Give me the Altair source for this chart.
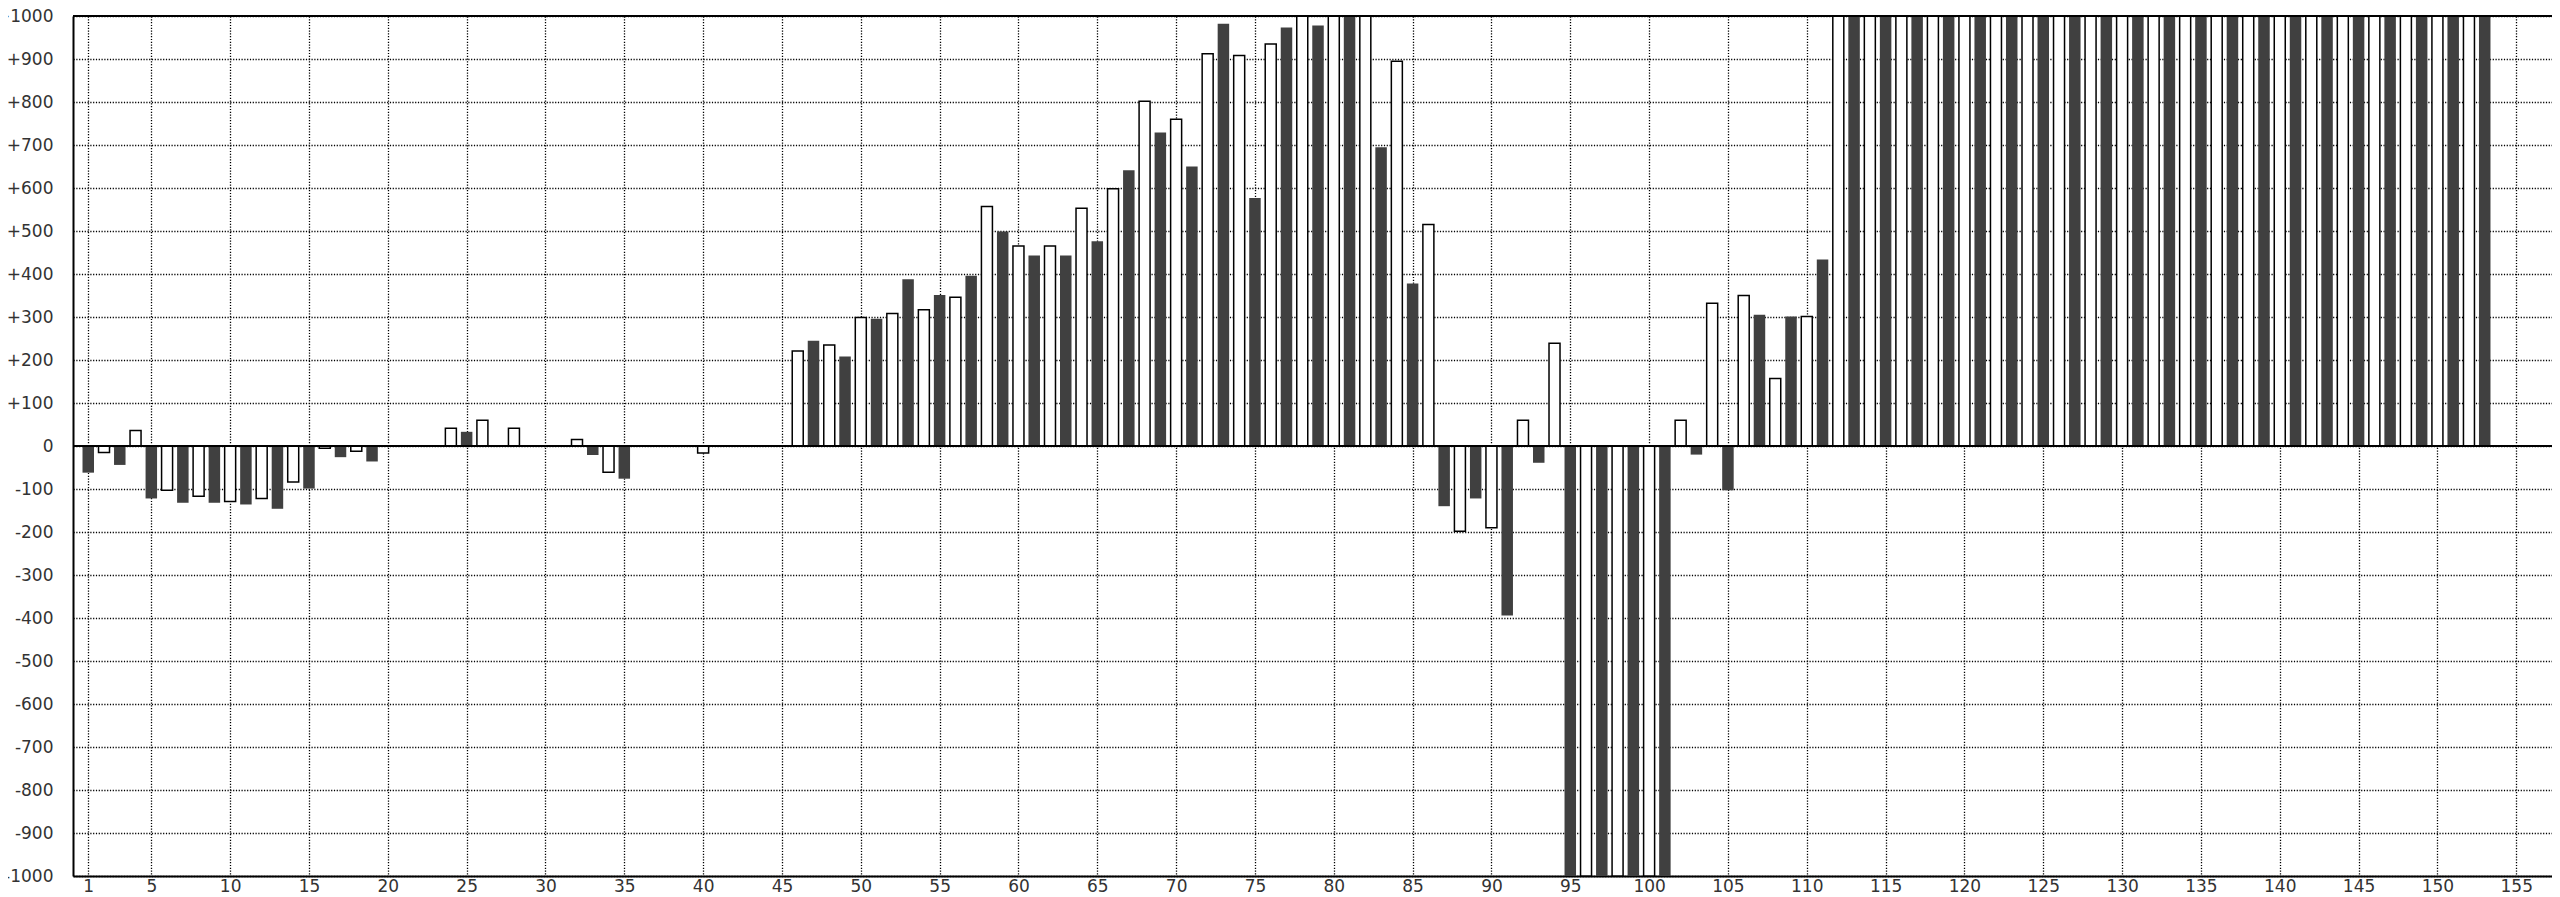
import altair as alt
import pandas as pd

positions = list(range(1, 154))
values = [
    -62, -15, -44, 36, -122, -103, -132, -117, -132, -129,
    -136, -122, -146, -84, -99, -5, -26, -12, -36, 0,
    0, 0, 0, 41, 33, 60, 0, 41, 0, 0,
    0, 15, -21, -61, -76, 0, 0, 0, 0, -16,
    0, 0, 0, 0, 0, 221, 245, 235, 208, 299,
    296, 308, 388, 317, 351, 346, 396, 557, 499, 465,
    443, 465, 443, 553, 476, 598, 641, 802, 729, 760,
    650, 912, 982, 908, 577, 935, 973, 1000, 978, 1000,
    1000, 1000, 695, 895, 378, 515, -140, -198, -122, -190,
    -394, 60, -39, 239, -1000, -1000, -1000, -1000, -1000, -1000,
    -1000, 60, -20, 332, -103, 350, 305, 157, 301, 301,
    434, 1000, 1000, 1000, 1000, 1000, 1000, 1000, 1000, 1000,
    1000, 1000, 1000, 1000, 1000, 1000, 1000, 1000, 1000, 1000,
    1000, 1000, 1000, 1000, 1000, 1000, 1000, 1000, 1000, 1000,
    1000, 1000, 1000, 1000, 1000, 1000, 1000, 1000, 1000, 1000,
    1000, 1000, 1000,
]
x_ticks = [1] + list(range(5, 160, 5))
y_ticks = list(range(-1000, 1001, 100))
border_lines = [0, 1000]

df = pd.DataFrame({"n": positions, "v": values})
df["series"] = ["dark" if n % 2 else "white" for n in positions]
df = df[df["v"] != 0]

xscale = alt.Scale(domain=[0.35, 156.95], nice=False, zero=False)
yscale = alt.Scale(domain=[-1000, 1000], nice=False)

xaxis = alt.Axis(values=x_ticks, labelPadding=2, labelFlush=False, labelOverlap=False)
yaxis = alt.Axis(
    values=y_ticks,
    labelPadding=20,
    labelOverlap=False,
    labelFlush=False,
    labelExpr="datum.value > 0 ? '+' + datum.value : '' + datum.value",
)

X = alt.X("n:Q", scale=xscale, axis=xaxis, title=None)
Y = alt.Y("v:Q", scale=yscale, axis=yaxis, title=None)

base = alt.Chart(df)

dark = base.transform_filter("datum.series == 'dark'").mark_bar(
    width=11.5, color="#404040", clip=True
).encode(x=X, y=Y)

white = base.transform_filter("datum.series == 'white'").mark_bar(
    width=11, fill="white", stroke="black", strokeWidth=1.5, clip=True
).encode(x=X, y=Y)

rules = alt.Chart(pd.DataFrame({"v": border_lines})).mark_rule(
    color="black", strokeWidth=2
).encode(y=Y)

chart = alt.layer(dark, white, rules).properties(
    width=2479,
    height=860,
    autosize=alt.AutoSizeParams(type="none"),
    padding={"left": 65, "top": 8, "right": 0, "bottom": 24},
).configure_view(stroke=None).configure_axis(
    labelFont="DejaVu Sans",
    labelFontSize=17,
    labelColor="#333333",
    grid=True,
    gridColor="black",
    gridDash=[1.2, 1.6],
    gridOpacity=1,
    gridWidth=1.3,
    domainColor="black",
    domainWidth=2,
    ticks=False,
)

chart.save("out.html", embed_options={"renderer": "svg", "actions": False})
